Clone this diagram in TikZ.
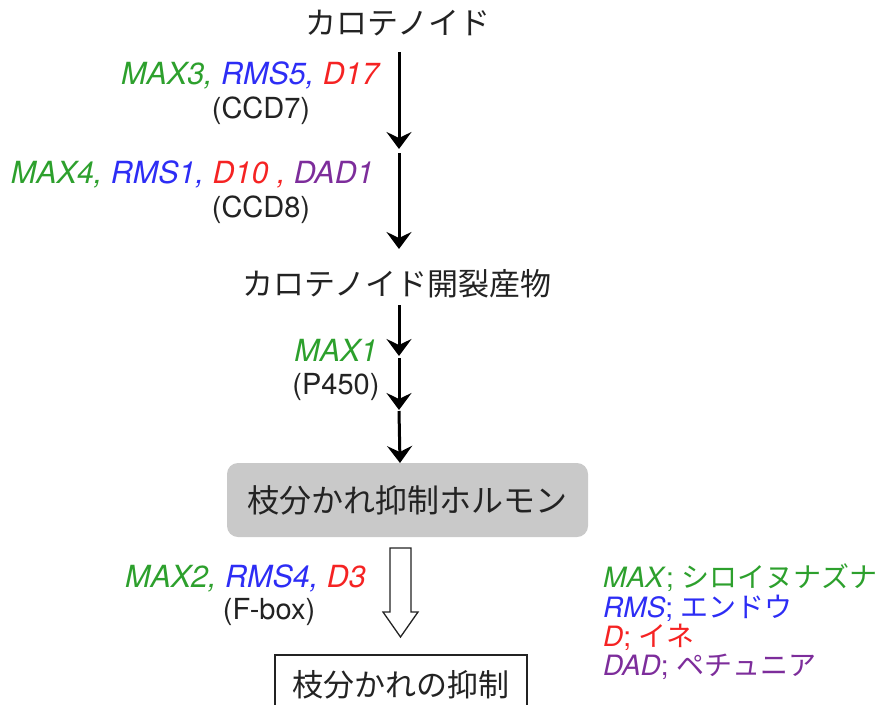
\documentclass[tikz,border=0pt]{standalone}
\usepackage{fontspec}
\setmainfont{TeX Gyre Heros}
\newfontfamily\jp{Noto Sans CJK JP}
\usetikzlibrary{arrows.meta}
\definecolor{gG}{RGB}{45,160,45}
\definecolor{gB}{RGB}{45,45,245}
\definecolor{gR}{RGB}{245,35,35}
\definecolor{gP}{RGB}{125,45,155}
\definecolor{ink}{RGB}{35,35,35}
\newcommand{\gG}[1]{\textcolor{gG}{\itshape #1}}
\newcommand{\gB}[1]{\textcolor{gB}{\itshape #1}}
\newcommand{\gR}[1]{\textcolor{gR}{\itshape #1}}
\newcommand{\gP}[1]{\textcolor{gP}{\itshape #1}}
\tikzset{
  jpt/.style={inner sep=0pt, text=ink, font=\jp\fontsize{31}{36}\selectfont},
  lat/.style={inner sep=0pt, text=ink, font=\fontsize{29}{34}\selectfont},
  gen/.style={inner sep=0pt, text=ink, font=\fontsize{30.5}{34}\selectfont},
  leg/.style={inner sep=0pt, anchor=west, font=\fontsize{28}{33}\selectfont},
  arr/.style={line width=3pt, -{Stealth[length=17pt,width=25pt,inset=6pt]}},
  hbox/.style={fill=black!21, rounded corners=11pt, minimum width=361pt, minimum height=74pt, inner sep=0pt, text=ink, font=\jp\fontsize{32}{36}\selectfont},
  rbox/.style={draw=ink, line width=1.3pt, minimum width=252pt, minimum height=60pt, inner sep=0pt, text=ink, font=\jp\fontsize{31}{36}\selectfont}
}
\begin{document}
\begin{tikzpicture}[x=1pt,y=-1pt]
\useasboundingbox (0,0) rectangle (877,704);
\clip (0,0) rectangle (877,704);

\node[jpt] (car) at (398,23) {カロテノイド};
\coordinate (c0) at (399,52);
\coordinate (c1) at (399,149);
\coordinate (c2) at (399,153);
\coordinate (c3) at (399,249);
\draw[arr] (c0) -- (c1);
\draw[arr] (c2) -- (c3);

\node[gen, anchor=east] (l1) at (379,75) {\gG{MAX3,} \gB{RMS5,} \gR{D17}};
\node[lat] (l1b) at (261,111) {(CCD7)};
\node[gen, anchor=east] (l2) at (374,174) {\gG{MAX4,} \gB{RMS1,} \gR{D10 ,} \gP{DAD1}};
\node[lat] (l2b) at (261,210) {(CCD8)};

\node[jpt] (cle) at (397,284) {カロテノイド開裂産物};
\coordinate (d0) at (399,305);
\coordinate (d1) at (399,356);
\coordinate (d2) at (399,358);
\coordinate (d3) at (399,410);
\coordinate (d4) at (399,411);
\coordinate (d5) at (400,463);
\draw[arr] (d0) -- (d1);
\draw[arr] (d2) -- (d3);
\draw[arr] (d4) -- (d5);

\node[gen] (m1) at (336,350) {\gG{MAX1}};
\node[lat] (m1b) at (336,387) {(P450)};

\node[hbox] (hor) at (407.5,500) {枝分かれ抑制ホルモン};

\draw[line width=1.3pt, draw=ink, fill=white] (390,548) -- (411,548) -- (411,612) -- (418,612) -- (400.5,637) -- (383,612) -- (390,612) -- cycle;

\node[gen, anchor=east] (l3) at (366,578) {\gG{MAX2,} \gB{RMS4,} \gR{D3}};
\node[lat] (l3b) at (269,612) {(F-box)};

\node[rbox] (res) at (401,685) {枝分かれの抑制};

\node[leg] (k1) at (603,578) {\textcolor{gG}{\textit{MAX}; {\jp シロイヌナズナ}}};
\node[leg] (k2) at (603,608) {\textcolor{gB}{\textit{RMS}; {\jp エンドウ}}};
\node[leg] (k3) at (603,637) {\textcolor{gR}{\textit{D}; {\jp イネ}}};
\node[leg] (k4) at (603,667) {\textcolor{gP}{\textit{DAD}; {\jp ペチュニア}}};
\end{tikzpicture}
\end{document}
